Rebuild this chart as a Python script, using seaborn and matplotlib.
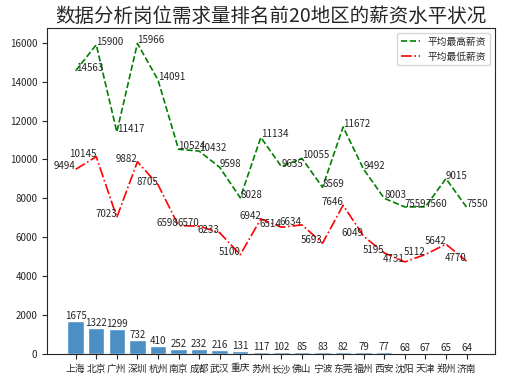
import matplotlib
matplotlib.use("Agg")
import matplotlib.pyplot as plt
import seaborn as sns
import numpy as np
import pandas as pd

cities = ["上海", "北京", "广州", "深圳", "杭州", "南京", "成都", "武汉", "重庆", "苏州",
          "长沙", "佛山", "宁波", "东莞", "福州", "西安", "沈阳", "天津", "郑州", "济南"]
counts = [1675, 1322, 1299, 732, 410, 252, 232, 216, 131, 117,
          102, 85, 83, 82, 79, 77, 68, 67, 65, 64]
high_salary = [14563, 15900, 11417, 15966, 14091, 10524, 10432, 9598, 8028, 11134,
               9635, 10055, 8569, 11672, 9492, 8003, 7559, 7560, 9015, 7550]
low_salary = [9494, 10145, 7023, 9882, 8705, 6598, 6570, 6233, 5100, 6942,
              6514, 6634, 5693, 7646, 6049, 5195, 4731, 5112, 5642, 4770]

sns.set_style("ticks")
plt.rcParams['font.family'] = ['Noto Sans CJK SC', 'DejaVu Sans']
plt.rcParams['axes.unicode_minus'] = False

df = pd.DataFrame({"city": cities, "count": counts, "high": high_salary,
                   "low": low_salary, "idx": np.arange(len(cities))})

fig = plt.figure(figsize=(5.12, 3.83), dpi=100)
ax = fig.add_axes([0.092, 0.076, 0.875, 0.851])

sns.barplot(data=df, x="city", y="count", color="#4b8fc5", saturation=1, width=0.8, ax=ax)
sns.lineplot(data=df, x="idx", y="high", color="green", linestyle="--", linewidth=1.2,
             label="平均最高薪资", ax=ax)
sns.lineplot(data=df, x="idx", y="low", color="red", linestyle="-.", linewidth=1.2,
             label="平均最低薪资", ax=ax)

for i, v in enumerate(counts):
    ax.text(i, v, str(v), ha="center", va="bottom", fontsize=7)
for i, v in enumerate(high_salary):
    ax.text(i, v, str(v), ha="left", va="baseline", fontsize=7)
for i, v in enumerate(low_salary):
    ax.text(i, v, str(v), ha="right", va="baseline", fontsize=7)

ax.set_xlabel("")
ax.set_ylabel("")
ax.set_xticks(range(len(cities)))
ax.set_xticklabels(cities)
ax.tick_params(axis="both", labelsize=7, length=3.5)
ax.set_xlim(-1.39, 20.39)
ax.set_ylim(0, 16764)
ax.set_yticks(range(0, 16001, 2000))
ax.legend(loc="upper right", fontsize=7)
ax.set_title("数据分析岗位需求量排名前20地区的薪资水平状况", fontsize=14, pad=4)

fig.savefig("out.png", dpi=100)
